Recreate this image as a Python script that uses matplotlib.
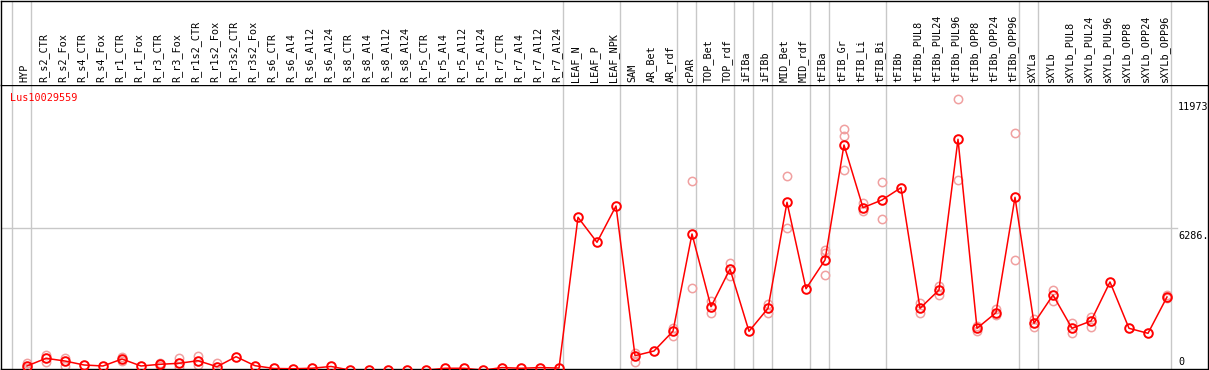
import numpy as np
import matplotlib
matplotlib.use("Agg")
import matplotlib.pyplot as plt
import matplotlib.transforms as mtransforms

# Sample names along the x axis
samples = [
    "HYP", "R_s2_CTR", "R_s2_Fox", "R_s4_CTR", "R_s4_Fox", "R_r1_CTR", "R_r1_Fox",
    "R_r3_CTR", "R_r3_Fox", "R_r1s2_CTR", "R_r1s2_Fox", "R_r3s2_CTR", "R_r3s2_Fox",
    "R_s6_CTR", "R_s6_Al4", "R_s6_Al12", "R_s6_Al24", "R_s8_CTR", "R_s8_Al4",
    "R_s8_Al12", "R_s8_Al24", "R_r5_CTR", "R_r5_Al4", "R_r5_Al12", "R_r5_Al24",
    "R_r7_CTR", "R_r7_Al4", "R_r7_Al12", "R_r7_Al24", "LEAF_N", "LEAF_P", "LEAF_NPK",
    "SAM", "AR_Bet", "AR_rdf", "cPAR", "TOP_Bet", "TOP_rdf", "iFIBa", "iFIBb",
    "MID_Bet", "MID_rdf", "tFIBa", "tFIB_Gr", "tFIB_Li", "tFIB_Bi", "tFIBb",
    "tFIBb_PUL8", "tFIBb_PUL24", "tFIBb_PUL96", "tFIBb_OPP8", "tFIBb_OPP24",
    "tFIBb_OPP96", "sXYLa", "sXYLb", "sXYLb_PUL8", "sXYLb_PUL24", "sXYLb_PUL96",
    "sXYLb_OPP8", "sXYLb_OPP24", "sXYLb_OPP96",
]

# mean expression per sample
mean_expr = [
    220, 558, 439, 264, 220, 527, 220, 294, 338, 453, 189, 628, 233,
    110, 100, 120, 200, 40, 30, 30, 30, 40, 120, 120, 40, 150, 120, 150, 130,
    6754, 5655, 7250, 672, 879, 1750, 6020, 2825, 4482, 1744, 2755,
    7413, 3616, 4877, 9930, 7176, 7514, 8054, 2755, 3559, 10181, 1876, 2562,
    7632, 2096, 3339, 1876, 2197, 3911, 1876, 1656, 3252,
]

nan = np.nan
# individual replicates (nan = not shown / overlaps the mean)
rep_a = [
    350, 703, 584, nan, nan, 628, nan, 350, 558, 659, 338, nan, nan,
    nan, nan, nan, nan, nan, nan, nan, nan, nan, nan, nan, nan, nan, nan, nan, nan,
    nan, nan, nan, 778, nan, 1903, 8335, 3076, 4732, nan, 2944,
    8568, nan, 5316, 10633, 7369, 8305, nan, 3001, 3748, 11973, 1977, 2711,
    10445, 2272, 3559, 2122, 2386, nan, nan, nan, 3339,
]
rep_b = [
    130, 409, 220, nan, nan, 439, nan, 220, 176, 264, nan, nan, nan,
    nan, nan, nan, nan, nan, nan, nan, nan, nan, nan, nan, nan, nan, nan, nan, nan,
    nan, nan, nan, 382, nan, 1538, 3634, 2535, 4187, nan, 2549,
    6270, nan, 5172, 10326, 7044, 6666, nan, 2562, 3353, 8393, 1771, 2461,
    4877, 1920, 3089, 1656, 1947, nan, nan, nan, 3194,
]
rep_c = [nan] * 42 + [4218, 8832] + [nan] * 17

group_ends = ["HYP", "R_r7_Al24", "LEAF_NPK", "AR_rdf", "cPAR", "TOP_rdf", "iFIBa",
              "iFIBb", "MID_rdf", "tFIBa", "tFIB_Bi", "tFIBb_OPP96", "sXYLa", "sXYLb_OPP96"]

gene = "Lus10029559"
y_max = 11973
y_mid = 6286

W, H = 1209, 370
fig = plt.figure(figsize=(W / 100, H / 100), dpi=100)
mono = "DejaVu Sans Mono"

x = np.arange(len(samples))
xlim = ((1 - 27) / 19, (1208 - 27) / 19)
# value 0 sits at pixel 371, 11973 at pixel 98.5
per_px = y_max / (371 - 98.5)
ylim = ((371 - 369) * per_px, (371 - 85) * per_px)

ax = fig.add_axes([1 / W, 1 / H, 1207 / W, 284 / H])
hx = fig.add_axes([1 / W, 285 / H, 1207 / W, 84 / H])

for a in (ax, hx):
    a.set_xlim(*xlim)
    a.set_xticks([])
    a.set_yticks([])
    for s in a.spines.values():
        s.set_color("black")
        s.set_linewidth(1.0)
hx.spines["bottom"].set_visible(False)
ax.set_ylim(*ylim)
hx.set_ylim(0, 1)

# group separators
seps = [-0.8] + [samples.index(g) + 0.2 for g in group_ends]
for sx in seps:
    ax.axvline(sx, color="#c8c8c8", lw=1, zorder=0)
    hx.axvline(sx, color="#c8c8c8", lw=1, zorder=0)
ax.axhline(y_mid, xmin=0, xmax=(1177 - 1) / 1207, color="#c8c8c8", lw=1, zorder=0)

# header labels
for i, name in enumerate(samples):
    hx.text(i - 0.13, 0.03, name, rotation=90, ha="center", va="bottom",
            fontsize=7.3, family=mono)

# replicates then means
for reps in (rep_a, rep_b, rep_c):
    ax.plot(x, reps, ls="none", marker="o", ms=6, mfc="none", mec="#f0a0a0",
            mew=1.1, zorder=2)
ax.plot(x, mean_expr, color="red", lw=1.1, marker="o", ms=6.2, mfc="none",
        mec="red", mew=1.4, zorder=3)

fig.text(10 / W, 1 - 98 / H, gene, color="red", fontsize=7.3, family=mono,
         ha="left", va="center")

trans = mtransforms.blended_transform_factory(ax.transAxes, ax.transData)
ax.annotate(str(y_max), xy=(1, y_max), xycoords=trans, xytext=(-30, -3),
            textcoords="offset pixels", ha="left", va="top", fontsize=7.3, family=mono)
ax.annotate(f"{y_mid}.", xy=(1, y_mid), xycoords=trans, xytext=(-30, -3),
            textcoords="offset pixels", ha="left", va="top", fontsize=7.3, family=mono)
ax.annotate("0", xy=(1, 0), xycoords=trans, xytext=(-30, 4),
            textcoords="offset pixels", ha="left", va="bottom", fontsize=7.3, family=mono)

fig.savefig("out.png", dpi=100)
